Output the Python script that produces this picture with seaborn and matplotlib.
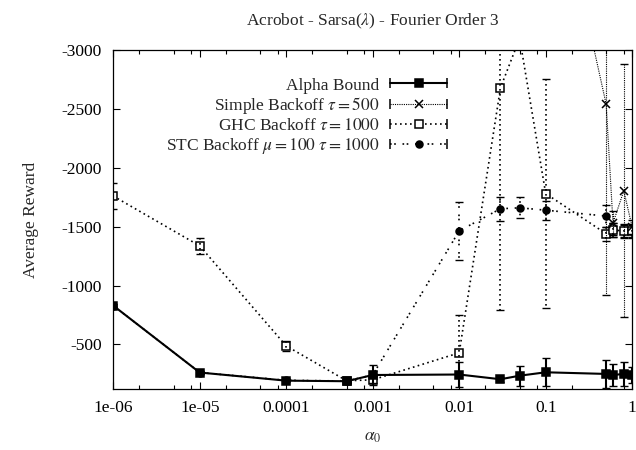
import numpy as np
import matplotlib
matplotlib.use("Agg")
import matplotlib.pyplot as plt
import seaborn as sns
from matplotlib.lines import Line2D
from matplotlib.legend_handler import HandlerLine2D, HandlerTuple
from matplotlib.ticker import FixedLocator, LogLocator, NullFormatter

# step sizes (alpha_0) used in the runs
alpha_x = [1e-06, 1e-05, 1e-04, 5e-04, 1e-03, 1e-02, 3e-02, 5e-02, 0.1, 0.5, 0.6, 0.8, 1.0]

# Alpha Bound
bound_y = [-830, -262, -193, -188, -241, -245, -205, -235, -264, -250, -241, -250, -241]
bound_err = [10, 10, 10, 15, 85, 105, 20, 85, 120, 122, 92, 100, 70]

# Simple Backoff tau = 500 (only the diverging high-alpha runs reach the plot)
simple_x = [0.1, 0.5, 0.6, 0.8, 1.0]
simple_y = [-4865, -2540, -1530, -1805, -1495]
simple_err = [0, 1624, 100, 1075, 60]

# GHC Backoff tau = 1000
ghc_y = [-1760, -1337, -488, -192, -200, -429, -2678, -3100, -1781, -1440, -1470, -1465, -1465]
ghc_err = [113, 65, 40, 15, 30, 320, 1888, 50, 970, 60, 60, 50, 50]

# STC Backoff mu = 100 tau = 1000
stc_y = [-830, -262, -196, -190, -241, -1464, -1652, -1660, -1640, -1590, -1470, -1465, -1465]
stc_err = [10, 10, 10, 15, 30, 247, 100, 90, 80, 90, 60, 60, 60]

xtick_vals = [1e-06, 1e-05, 1e-04, 1e-03, 1e-02, 1e-01, 1]
xtick_labels = ["1e-06", "1e-05", "0.0001", "0.001", "0.01", "0.1", "1"]
ytick_vals = [-3000, -2500, -2000, -1500, -1000, -500]

sns.set_style("ticks")
plt.rcParams['font.family'] = ['Liberation Serif', 'DejaVu Serif']
plt.rcParams['mathtext.fontset'] = 'stix'
plt.rcParams['axes.unicode_minus'] = False
FS = 12.5

fig = plt.figure(figsize=(6.36, 4.5), dpi=100)
ax = fig.add_axes([0.178, 0.135, 0.816, 0.754])

series = [
    # x, y, err, label, linestyle, lw, marker, ms, mfc
    (alpha_x, bound_y, bound_err, "Alpha Bound", "-", 1.5, "s", 5.5, "k"),
    (simple_x, simple_y, simple_err, r"Simple Backoff $\tau = 500$", (0, (1, 1)), 0.8, "x", 6, "k"),
    (alpha_x, ghc_y, ghc_err, r"GHC Backoff $\tau = 1000$", (0, (1, 2)), 1.2, "s", 6, "white"),
    (alpha_x, stc_y, stc_err, r"STC Backoff $\mu = 100$ $\tau = 1000$", (0, (1, 1.5, 1, 4)), 1.2, "o", 5, "k"),
]

handles = []
labels = []
hmap = {tuple: HandlerTuple(ndivide=1)}
# draw in reverse so the solid line sits on top
for x, y, err, label, ls, lw, mk, ms, mfc in series[::-1]:
    sns.lineplot(x=x, y=y, ax=ax, color="k", linestyle=ls, linewidth=lw,
                 marker=mk, markersize=ms, markerfacecolor=mfc,
                 markeredgecolor="k", markeredgewidth=1.1,
                 sort=False, estimator=None, legend=False)
    eb = ax.errorbar(x, y, yerr=err, fmt="none", ecolor="k", elinewidth=lw,
                     capsize=3, capthick=1)
    eb[2][0].set_linestyle(ls)

for x, y, err, label, ls, lw, mk, ms, mfc in series:
    main = Line2D([], [], color="k", linestyle=ls, linewidth=lw, marker=mk,
                  markersize=ms, markerfacecolor=mfc, markeredgecolor="k",
                  markeredgewidth=1.1)
    caps = Line2D([], [], color="k", linestyle="none", marker="|",
                  markersize=7, markeredgewidth=1.1)
    hmap[caps] = HandlerLine2D(numpoints=2, marker_pad=0)
    handles.append((main, caps))
    labels.append(label)

ax.set_xscale("log")
ax.set_xlim(1e-06, 1)
ax.set_ylim(-120, -3000)
ax.xaxis.set_major_locator(FixedLocator(xtick_vals))
ax.set_xticklabels(xtick_labels)
ax.xaxis.set_minor_locator(LogLocator(base=10, subs=(2, 5, 8)))
ax.xaxis.set_minor_formatter(NullFormatter())
ax.yaxis.set_major_locator(FixedLocator(ytick_vals))
ax.set_yticklabels([str(v) for v in ytick_vals])

ax.tick_params(which="both", direction="in", top=True, right=True,
               labelsize=FS, colors="k", width=0.8)
ax.tick_params(which="major", length=5, pad=8)
ax.tick_params(which="minor", length=3)
for sp in ax.spines.values():
    sp.set_linewidth(0.9)
    sp.set_color("k")

ax.set_title(r"Acrobot - Sarsa($\lambda$) - Fourier Order 3", fontsize=FS, pad=18)
ax.set_xlabel(r"$\alpha_0$", fontsize=FS, labelpad=9)
ax.set_ylabel("Average Reward", fontsize=FS, labelpad=16)

ax.legend(handles, labels, handler_map=hmap, loc="upper right",
          bbox_to_anchor=(0.667, 0.955), frameon=False, markerfirst=False,
          fontsize=FS, handlelength=3.3, handletextpad=0.6, labelspacing=0.1,
          borderpad=0.2)

fig.savefig("out.png", dpi=100)
